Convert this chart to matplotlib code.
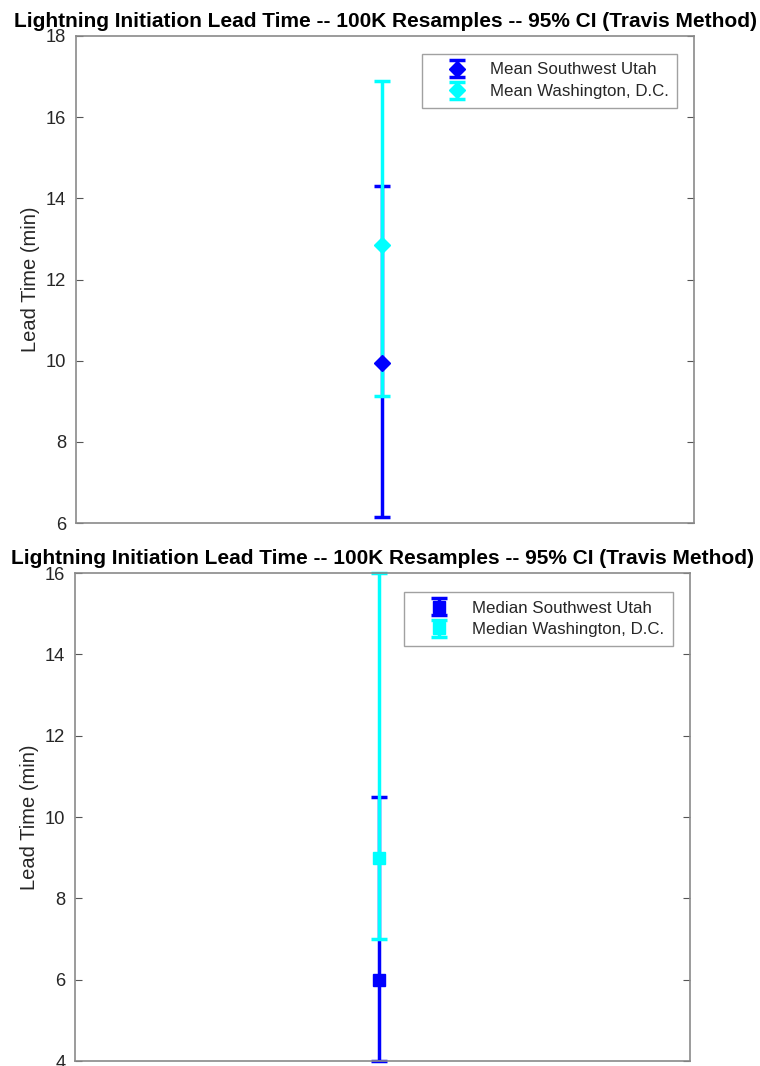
import matplotlib.pyplot as plt

plt.rcParams['font.family'] = ['Liberation Sans', 'DejaVu Sans']

title = 'Lightning Initiation Lead Time -- 100K Resamples -- 95% CI (Travis Method)'
sites = ['Southwest Utah', 'Washington, D.C.']
colors = ['#0000ff', '#00ffff']

# mean lead time and 95% CI bounds (min)
mean_val = [9.95, 12.85]
mean_lo = [6.15, 9.13]
mean_hi = [14.31, 16.89]

# median lead time and 95% CI bounds (min)
med_val = [6.0, 9.0]
med_lo = [4.0, 7.0]
med_hi = [10.5, 16.0]

fig = plt.figure(figsize=(7.6, 10.66), dpi=100)
W, H = 760, 1066
ax1 = fig.add_axes([76 / W, 1 - 523 / H, 618 / W, 487 / H])
ax2 = fig.add_axes([75 / W, 1 - 1061 / H, 615 / W, 488 / H])


def draw(ax, vals, lo, hi, marker, msize, stat, ylim, ticks, leg_anchor):
    for v, l, h, c, s in zip(vals, lo, hi, colors, sites):
        ax.errorbar([1], [v], yerr=[[v - l], [h - v]], fmt=marker, color=c,
                    ecolor=c, elinewidth=2.5, capsize=5.5, capthick=2.5,
                    markersize=msize, label=f'{stat} {s}', clip_on=False)
    ax.set_xlim(0, 2.02)
    ax.set_ylim(*ylim)
    ax.set_yticks(ticks)
    ax.set_xticks([])
    ax.tick_params(axis='y', direction='in', right=True, length=5, pad=7,
                   labelsize=13.2, labelcolor='#262626', color='#555555')
    for sp in ax.spines.values():
        sp.set_color('#8a8a8a')
        sp.set_linewidth(1.2)
    ax.set_ylabel('Lead Time (min)', fontsize=14.5, color='#262626', labelpad=4)
    ax.set_title(title, fontsize=15, fontweight='bold', pad=6.5)
    leg = ax.legend(loc='upper right', bbox_to_anchor=leg_anchor,
                    borderaxespad=0, fontsize=12.2, frameon=True,
                    fancybox=False, handlelength=3.1, borderpad=0.5,
                    labelspacing=0.4, handletextpad=0.4)
    leg.get_frame().set_edgecolor('#8a8a8a')
    leg.get_frame().set_linewidth(1.0)
    for t in leg.get_texts():
        t.set_color('#262626')


draw(ax1, mean_val, mean_lo, mean_hi, 'D', 8, 'Mean', (6, 18),
     range(6, 19, 2), (0.9725, 0.963))
draw(ax2, med_val, med_lo, med_hi, 's', 8, 'Median', (4, 16),
     range(4, 17, 2), (0.972, 0.961))

fig.savefig('out.png', dpi=100)
